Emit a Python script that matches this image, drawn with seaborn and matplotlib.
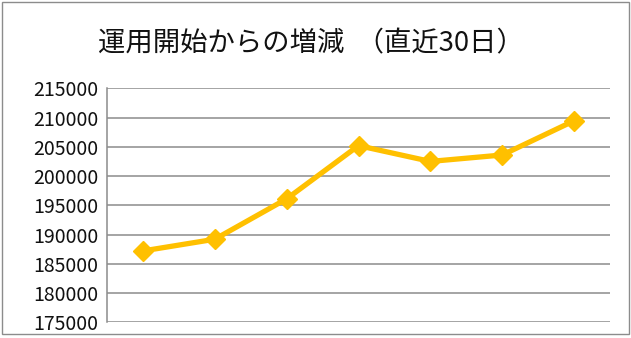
import matplotlib
matplotlib.use("Agg")
import matplotlib.pyplot as plt
import seaborn as sns
import pandas as pd
from matplotlib.patches import Rectangle

# Data
days = [1, 2, 3, 4, 5, 6, 7]
values = [187200, 189200, 196100, 205200, 202500, 203600, 209450]
y_ticks = [175000, 180000, 185000, 190000, 195000, 200000, 205000, 210000, 215000]
title = "運用開始からの増減  （直近30日）"

sns.set_theme(style="white")
plt.rcParams['font.family'] = ['Noto Sans CJK JP', 'DejaVu Sans']

W, H = 631, 338
fig = plt.figure(figsize=(W / 100, H / 100), dpi=100)
ax = fig.add_axes([107 / W, (H - 322.3) / H, (610 - 107) / W, (322.3 - 88.3) / H])

df = pd.DataFrame({"day": days, "value": values})
sns.lineplot(data=df, x="day", y="value", ax=ax, color="#FFC000", linewidth=3.8,
             marker="D", markersize=10, markeredgecolor="#FFC000", markeredgewidth=1,
             solid_capstyle="round")

ax.set_xlim(days[0] - 0.5, days[-1] + 0.5)
ax.set_ylim(y_ticks[0], y_ticks[-1])
ax.set_yticks(y_ticks)
ax.set_yticklabels([str(v) for v in y_ticks])
ax.set_xticks([])
ax.set_xlabel("")
ax.set_ylabel("")
ax.grid(axis="y", color="#8c8c8c", linewidth=1.1)
ax.set_axisbelow(True)
for s in ["top", "right", "bottom"]:
    ax.spines[s].set_visible(False)
ax.spines["left"].set_color("#8c8c8c")
ax.spines["left"].set_linewidth(1.1)
ax.tick_params(axis="y", length=0, pad=6, labelsize=14, labelcolor="#111111")

fig.text(310.5 / W, 1 - 44 / H, title, ha="center", va="center", fontsize=19.7, color="#111111")

fig.patches.append(Rectangle((1.5 / W, 1 - 334 / H), (629 - 1.5) / W, (334 - 2) / H,
                             transform=fig.transFigure, fill=False, edgecolor="#8c8c8c",
                             linewidth=1.0))

fig.savefig("out.png", dpi=100)
